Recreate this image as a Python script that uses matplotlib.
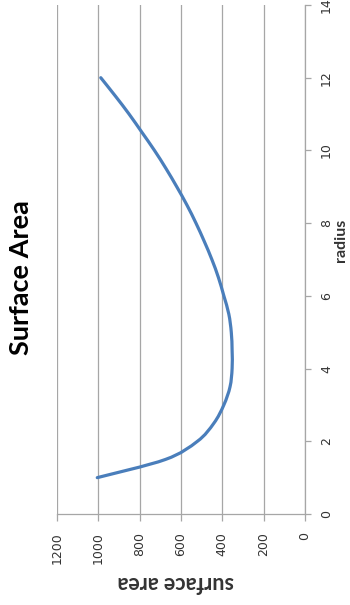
import numpy as np
import matplotlib.pyplot as plt
from matplotlib.path import Path
from matplotlib.patches import PathPatch

# =========================
# DATA
# =========================
radius = [1, 1.5, 2, 2.5, 3, 3.5, 4, 4.5, 5, 5.5, 6, 6.5,
          7, 7.5, 8, 8.5, 9, 9.5, 10, 10.5, 11, 11.5, 12]
surface_area = [1005, 675, 520, 440, 392, 362, 352, 352, 356, 368, 392, 418,
                450, 487, 527, 571, 620, 672, 728, 789, 851, 918, 988]

sa_ticks = [0, 200, 400, 600, 800, 1000, 1200]
radius_ticks = [0, 2, 4, 6, 8, 10, 12, 14]

title = "Surface Area"
x_title = "radius"
y_title = "surface area"

line_color = "#4A7EBB"
grid_color = "#A6A6A6"
text_color = "#333333"

plt.rcParams["font.family"] = ["Lato", "DejaVu Sans"]

# =========================
# FIGURE (chart is turned a quarter turn to the left)
# =========================
W, H = 350, 605
fig = plt.figure(figsize=(W / 100, H / 100), dpi=100)
ax = fig.add_axes([57 / W, (H - 514) / H, (304.8 - 57) / W, (514 - 5) / H])

# smoothed line (Excel style): cubic Bezier segments built from the data points
pts = np.column_stack([surface_area, radius]).astype(float)
n = len(pts)
verts = [pts[0]]
codes = [Path.MOVETO]
for i in range(n - 1):
    p0 = pts[i - 1] if i > 0 else pts[i]
    p1 = pts[i]
    p2 = pts[i + 1]
    p3 = pts[i + 2] if i + 2 < n else pts[i + 1]
    verts += [p1 + (p2 - p0) / 6, p2 - (p3 - p1) / 6, p2]
    codes += [Path.CURVE4] * 3
ax.add_patch(PathPatch(Path(verts, codes), facecolor="none",
                       edgecolor=line_color, lw=2.3, capstyle="round"))

ax.set_xlim(1200, 0)
ax.set_ylim(0, 14)
ax.set_xticks(sa_ticks)
ax.set_yticks(radius_ticks)

ax.grid(axis="x", color=grid_color, lw=0.9)
ax.set_axisbelow(True)

for s in ["top", "left"]:
    ax.spines[s].set_visible(False)
for s in ["right", "bottom"]:
    ax.spines[s].set_color(grid_color)
    ax.spines[s].set_linewidth(0.9)

ax.yaxis.tick_right()
ax.tick_params(axis="x", direction="out", length=5, width=0.9, color=grid_color,
               labelsize=9, labelcolor=text_color, labelrotation=90, pad=8)
ax.tick_params(axis="y", direction="out", length=4.5, width=0.9, color=grid_color,
               labelsize=9, labelcolor=text_color, labelrotation=90, pad=6.5)
for lbl in ax.get_xticklabels() + ax.get_yticklabels():
    lbl.set_fontfamily("DejaVu Sans")
for lbl in ax.get_yticklabels():
    lbl.set_va("center")

fig.text(21 / W, 1 - 278 / H, title, rotation=90, ha="center", va="center",
         fontsize=19.5, fontweight="bold", color="black")
fig.text(341 / W, 1 - 240 / H, x_title, rotation=90, ha="center", va="center",
         fontsize=11.5, color=text_color, fontweight="bold")
fig.text(176 / W, 1 - 583 / H, y_title, rotation=180, ha="center", va="center",
         fontsize=15.5, color=text_color, fontweight="bold")

fig.savefig("out.png", dpi=100, facecolor="white")
